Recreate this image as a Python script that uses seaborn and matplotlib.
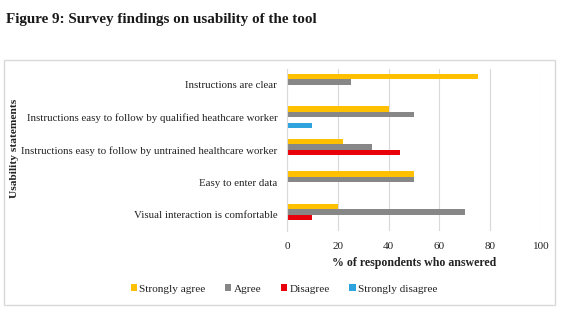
import matplotlib
matplotlib.use("Agg")
import matplotlib.pyplot as plt
import seaborn as sns
import pandas as pd
from matplotlib.patches import Rectangle, Patch

statements = [
    "Instructions are clear",
    "Instructions easy to follow by qualified heathcare worker",
    "Instructions easy to follow by untrained healthcare worker",
    "Easy to enter data",
    "Visual interaction is comfortable",
]
responses = ["Strongly agree", "Agree", "Disagree", "Strongly disagree"]
strongly_agree = [75, 40, 22.2, 50, 20]
agree = [25, 50, 33.3, 50, 70]
disagree = [0, 0, 44.4, 0, 10]
strongly_disagree = [0, 10, 0, 0, 0]
colors = ["#FFC000", "#878787", "#E8000B", "#2EA3DD"]
xticks = [0, 20, 40, 60, 80, 100]

rows = []
for resp, vals in zip(responses, [strongly_agree, agree, disagree, strongly_disagree]):
    for s, v in zip(statements, vals):
        rows.append({"statement": s, "response": resp, "value": v})
df = pd.DataFrame(rows)

sns.set_theme(style="white")
plt.rcParams['font.family'] = ['Liberation Serif', 'DejaVu Serif']

fig = plt.figure(figsize=(5.65, 3.21), dpi=100)
ax = fig.add_axes([287/565, 1-231/321, (541-287)/565, (231-68.5)/321])

sns.barplot(data=df, y="statement", x="value", hue="response", order=statements,
            hue_order=responses, palette=colors, orient="h", width=0.68,
            errorbar=None, ax=ax, saturation=1, legend=False, linewidth=0)

ax.set_xlim(0, 100)
ax.set_xticks(xticks)
ax.set_xticklabels([str(t) for t in xticks], fontsize=8, color="#222222")
ax.tick_params(axis='y', labelsize=7.8, length=0, pad=7, colors="#222222")
ax.tick_params(axis='x', length=0, pad=8)
ax.grid(axis='x', color="#D9D9D9", linewidth=0.8)
ax.set_axisbelow(True)
for side in ["top", "right", "bottom"]:
    ax.spines[side].set_visible(False)
ax.spines["left"].set_color("#D9D9D9")
ax.spines["left"].set_linewidth(0.8)

ax.set_xlabel("% of respondents who answered", fontsize=8.6, fontweight="bold",
              color="#222222", labelpad=4)
ax.set_ylabel("")
fig.text(15/565, 1-148/321, "Usability statements", rotation=90, fontsize=8.2,
         fontweight="bold", color="#222222", ha="center", va="center")

handles = [Patch(facecolor=c, edgecolor="none") for c in colors]
fig.legend(handles, responses, loc="center", bbox_to_anchor=(284/565, 1-289/321),
           ncol=4, frameon=False, fontsize=8.1, handlelength=0.55, handleheight=0.55,
           handletextpad=0.2, columnspacing=1.75, labelcolor="#222222")

fig.patches.append(Rectangle((3.5/565, 1-305/321), (555-3.5)/565, (305-60)/321,
                             transform=fig.transFigure, fill=False,
                             edgecolor="#D9D9D9", linewidth=1.0))

fig.text(6/565, 1-20/321, "Figure 9: Survey findings on usability of the tool",
         fontsize=10.9, fontweight="bold", color="#1a1a1a", ha="left", va="center")

fig.savefig("out.png", dpi=100, facecolor="white")
